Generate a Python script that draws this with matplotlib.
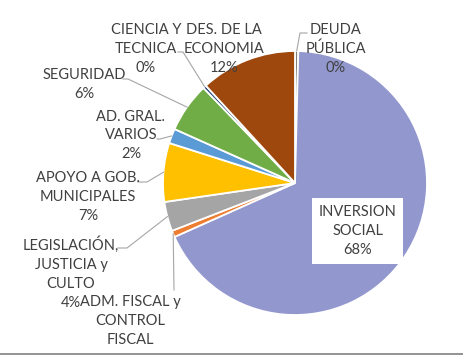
import numpy as np
import matplotlib
matplotlib.use('Agg')
import matplotlib.pyplot as plt

# Data (share of budget, clockwise from 12 o'clock)
labels = ['DEUDA\nPÚBLICA', 'INVERSION\nSOCIAL', 'ADM. FISCAL y\nCONTROL\nFISCAL',
          'LEGISLACIÓN,\nJUSTICIA y\nCULTO', 'APOYO A GOB.\nMUNICIPALES', 'AD. GRAL.\nVARIOS',
          'SEGURIDAD', 'CIENCIA Y\nTECNICA', 'DES. DE LA\nECONOMIA']
values = [0.4, 67.9, 0.8, 3.6, 7.2, 1.8, 6.1, 0.4, 11.8]
colors = ['#7F7F7F', '#9298CE', '#ED7D31', '#A5A5A5', '#FFC000', '#5B9BD5',
          '#70AD47', '#264478', '#9E480E']

W, H = 464, 356
plt.rcParams['font.family'] = ['Lato', 'DejaVu Sans']
fig = plt.figure(figsize=(W / 100, H / 100), dpi=100)
ax = fig.add_axes([0, 0, 1, 1])

cx, cy, r = 295, H - 183, 132
wedges, _ = ax.pie(values, colors=colors, startangle=90, counterclock=False,
                   center=(cx, cy), radius=r, frame=True,
                   wedgeprops=dict(edgecolor='white', linewidth=1.3))
ax.set_xlim(0, W)
ax.set_ylim(0, H)
ax.set_aspect('equal')
ax.axis('off')

pct = [f'{round(v)}%' for v in values]
txt_color = '#404040'
fs = 10.5
ls = 1.45

# label centres (pixel coords, top-left origin) and leader line knee points
label_pos = {
    0: (336, 49),
    1: (358, 231),
    2: (130, 321),
    3: (71, 273.5),
    4: (88, 197),
    5: (131, 135.5),
    6: (84, 84.5),
    7: (146, 49),
    8: (224, 49),
}
leaders = {
    0: [(307, 33), (300, 33)],
    2: [(174, 290)],
    3: [(118, 248), (127, 248)],
    4: [(138, 182), (147, 182)],
    5: [(157, 139), (160, 139)],
    6: [(123, 79), (128, 79)],
    7: [(178, 52), (183, 52)],
}

total = sum(values)
start = 90.0
for i, v in enumerate(values):
    ang = start - v / total * 360 / 2
    start -= v / total * 360
    ex = cx + r * np.cos(np.radians(ang))
    ey = cy + r * np.sin(np.radians(ang))
    if i in leaders:
        pts = [(x, H - y) for x, y in leaders[i]] + [(ex, ey)]
        xs, ys = zip(*pts)
        ax.plot(xs, ys, color='#A6A6A6', lw=0.8, zorder=3)
    x, y = label_pos[i]
    # the percentage of ADM. FISCAL falls below the chart edge in the reference
    s = labels[i] if i == 2 else labels[i] + '\n' + pct[i]
    if i == 1:
        ax.text(x, H - y, s, ha='center', va='center', fontsize=fs, color=txt_color,
                linespacing=ls, zorder=5,
                bbox=dict(facecolor='white', edgecolor='none', boxstyle='square,pad=0.45'))
    else:
        ax.text(x, H - y, s, ha='center', va='center', fontsize=fs, color=txt_color,
                linespacing=ls, zorder=5)

ax.plot([0, W], [H - 353.5, H - 353.5], color='#808080', lw=1.2, zorder=6)

fig.savefig('out.png', dpi=100)
